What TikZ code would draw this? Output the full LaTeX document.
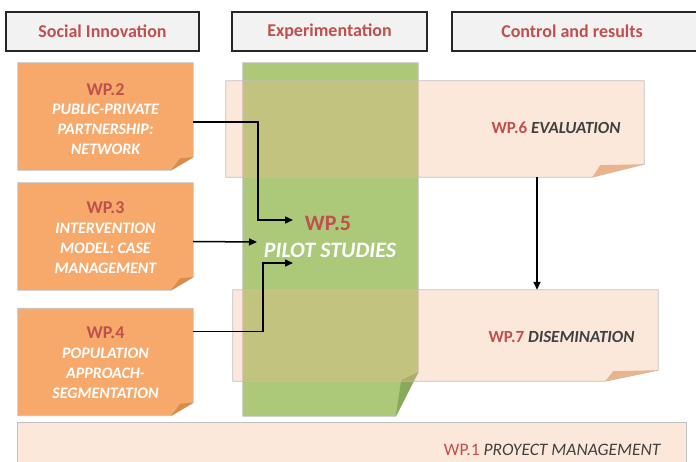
\documentclass[tikz,border=0pt]{standalone}
\usepackage{fontspec}
\setmainfont{Carlito}
\usetikzlibrary{arrows.meta,calc}
\definecolor{hdrfill}{HTML}{F2F2F2}
\definecolor{hdrline}{HTML}{262626}
\definecolor{wpred}{HTML}{C0504D}
\definecolor{orfill}{HTML}{F6A96B}
\definecolor{orfold}{HTML}{D98B4A}
\definecolor{grfill}{HTML}{ACC97A}
\definecolor{grfold}{HTML}{88A85A}
\definecolor{pefill}{HTML}{F3B98E}
\definecolor{pefold}{HTML}{E8B48C}
\definecolor{edge}{HTML}{BFBFBF}
\definecolor{dgray}{HTML}{404040}
\tikzset{
  hdr/.style={draw=hdrline,line width=1.3pt,fill=hdrfill,inner sep=0pt},
  hdrtext/.style={text=wpred,font=\bfseries\fontsize{18}{20}\selectfont},
  box/.style={inner sep=0pt,draw=none},
  wp/.style={text=wpred,font=\bfseries\fontsize{18}{20}\selectfont},
  wpbody/.style={text=white,align=center,font=\bfseries\itshape\fontsize{16}{20}\selectfont},
  wpright/.style={font=\fontsize{17}{20}\selectfont,anchor=east},
  arr/.style={line width=1.5pt,-{Triangle[length=8pt,width=7pt]}},
  shape line/.style={draw=edge,line width=0.8pt},
}
\begin{document}
\begin{tikzpicture}[x=1pt,y=-1pt]
\useasboundingbox (0,0) rectangle (696,462);
% headers
\node[hdr,minimum width=193pt,minimum height=39pt] (h1) at (102.5,31.5) {};
\node[hdrtext] (h1t) at (h1) {Social Innovation};
\node[hdr,minimum width=195pt,minimum height=39pt] (h2) at (329.5,31.5) {};
\node[hdrtext] (h2t) at (h2) {Experimentation};
\node[hdr,minimum width=246pt,minimum height=39pt] (h3) at (575,31.5) {};
\node[hdrtext] (h3t) at (572,31.5) {Control and results};

% green pilot box
\node[box,minimum width=175pt,minimum height=353pt] (wp5) at (330.5,239.5) {};
\fill[grfill,shape line] (wp5.north west) -- (wp5.north east) -- ($(wp5.south east)+(0,-44)$) -- ($(wp5.south west)+(153,0)$) -- (wp5.south west) -- cycle;
\fill[grfold] ($(wp5.south east)+(0,-44)$) -- ($(wp5.south east)+(-17,-36)$) -- ($(wp5.south west)+(153,0)$) -- cycle;

% peach boxes
\node[box,minimum width=418pt,minimum height=96pt] (wp6) at (435,129) {};
\fill[pefill,fill opacity=0.33,shape line,draw opacity=1] (wp6.north west) -- (wp6.north east) -- ($(wp6.south east)+(0,-13)$) -- ($(wp6.south east)+(-52,0)$) -- (wp6.south west) -- cycle;
\fill[pefold] ($(wp6.south east)+(0,-13)$) -- ($(wp6.south east)+(-44,-12)$) -- ($(wp6.south east)+(-52,0)$) -- cycle;
\node[box,minimum width=425pt,minimum height=91pt] (wp7) at (445.5,335.5) {};
\fill[pefill,fill opacity=0.33,shape line,draw opacity=1] (wp7.north west) -- (wp7.north east) -- ($(wp7.south east)+(0,-11)$) -- ($(wp7.south east)+(-53,0)$) -- (wp7.south west) -- cycle;
\fill[pefold] ($(wp7.south east)+(0,-11)$) -- ($(wp7.south east)+(-45,-10)$) -- ($(wp7.south east)+(-53,0)$) -- cycle;
\node[box,minimum width=668pt,minimum height=42pt] (wp1) at (352,444) {};
\fill[pefill,fill opacity=0.33,shape line,draw opacity=1] (wp1.south west) -- (wp1.north west) -- (wp1.north east) -- (wp1.south east);

% orange boxes
\foreach \n/\y in {wp2/116.5, wp3/236.5, wp4/362} {
  \node[box,minimum width=175pt,minimum height=107pt] (\n) at (105.5,\y) {};
  \fill[orfill,shape line] (\n.north west) -- (\n.north east) -- ($(\n.south east)+(0,-13)$) -- ($(\n.south east)+(-22,0)$) -- (\n.south west) -- cycle;
  \fill[orfold] ($(\n.south east)+(0,-13)$) -- ($(\n.south east)+(-13,-12)$) -- ($(\n.south east)+(-22,0)$) -- cycle;
}

% texts
\node[wp] (wp2a) at (105.5,90) {WP.2};
\node[wpbody] (wp2b) at (105.5,129.5) {PUBLIC-PRIVATE\\PARTNERSHIP:\\NETWORK};
\node[wp] (wp3a) at (105.5,208) {WP.3};
\node[wpbody] (wp3b) at (105.5,248.5) {INTERVENTION\\MODEL: CASE\\MANAGEMENT};
\node[wp] (wp4a) at (105.5,333) {WP.4};
\node[wpbody] (wp4b) at (105.5,373.5) {POPULATION\\APPROACH-\\SEGMENTATION};
\node[wp,font=\bfseries\fontsize{22}{24}\selectfont] (wp5a) at (328,223) {WP.5};
\node[text=white,font=\bfseries\itshape\fontsize{22}{24}\selectfont] (wp5b) at (330,250) {PILOT STUDIES};
\node[wpright] (wp6t) at (624,128) {\bfseries{\color{wpred}WP.6} {\color{dgray}\itshape EVALUATION}};
\node[wpright] (wp7t) at (638,337) {\bfseries{\color{wpred}WP.7} {\color{dgray}\itshape DISEMINATION}};
\node[wpright,font=\fontsize{17.5}{20}\selectfont] (wp1t) at (664,450) {{\color{wpred}WP.1} {\color{dgray}\itshape PROYECT MANAGEMENT}};

% arrows
\coordinate (t2) at (293,220);
\coordinate (t3) at (257,242);
\coordinate (t4) at (293,263);
\draw[arr] ([yshift=-5.5pt]wp2.east) -- ($([yshift=-5.5pt]wp2.east)+(65,0)$) |- (t2);
\draw[arr] ([yshift=-5pt]wp3.east) -- (t3);
\draw[arr] ([yshift=-23pt]wp4.north east) -- ($([yshift=-23pt]wp4.north east)+(70,0)$) |- (t4);
\draw[arr] (wp6.south -| 537,0) -- (wp7.north -| 537,0);
\end{tikzpicture}
\end{document}
